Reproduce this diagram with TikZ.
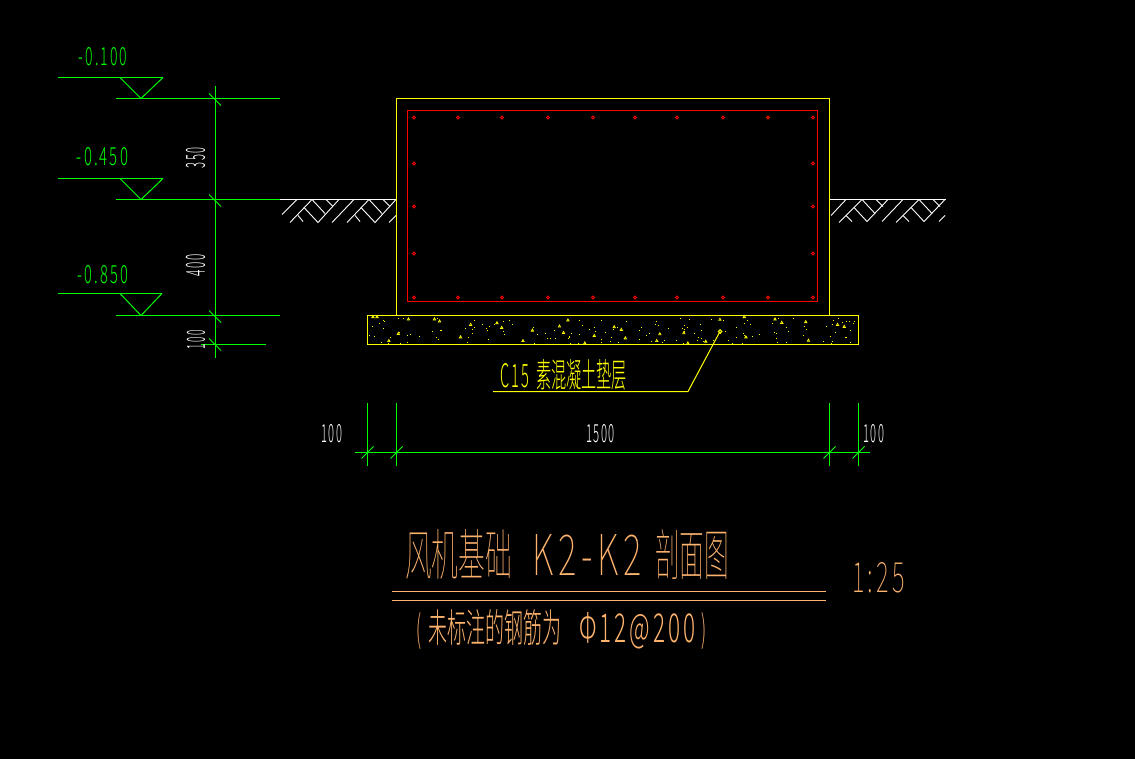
\documentclass[tikz,border=0pt]{standalone}
\usepackage{fontspec}
\usepackage{graphicx}
\setmainfont{Noto Sans CJK SC Light}
\newfontfamily\thinfont{Noto Sans CJK SC Thin}
\newcommand{\ls}{\addfontfeature{LetterSpace=14}}
\definecolor{cadgreen}{RGB}{0,255,0}
\definecolor{cadyellow}{RGB}{255,255,0}
\definecolor{cadred}{RGB}{255,0,0}
\definecolor{cadorange}{RGB}{255,180,110}
\newcommand{\fittext}[3]{\resizebox{#1pt}{#2pt}{#3}}
\tikzset{
  lbl/.style={inner sep=0pt,outer sep=0pt,anchor=center},
  blbl/.style={inner sep=0pt,outer sep=0pt,anchor=base west},
  gline/.style={draw=cadgreen,line width=1pt},
  wline/.style={draw=white,line width=1pt},
  yline/.style={draw=cadyellow,line width=1pt},
  rline/.style={draw=cadred,line width=1pt},
  oline/.style={draw=cadorange,line width=1pt},
  hatchline/.style={draw=white,line width=.9pt},
  barmark/.style={draw=cadred,line width=.9pt},
}
\begin{document}
\begin{tikzpicture}[x=1pt,y=-1pt]
\fill[black] (0,0) rectangle (1135,759);
\useasboundingbox (0,0) rectangle (1135,759);
\begin{scope}[shift={(0,0.5)}]
% level marks
\foreach \ya/\yb/\xr in {77/98/163,178/199/163,293/315/162}{
  \draw[gline] (58,\ya) -- (\xr,\ya);
  \draw[gline] (120,\ya) -- (141,\yb) -- (\xr,\ya);
  \draw[gline] (116,\yb) -- (280,\yb);
  \draw[gline] (209,\yb-5) -- (221,\yb+7);
}
\draw[gline] (215.5,86) -- (215.5,357);
\draw[gline] (201,344) -- (266,344);
\draw[gline] (209,338) -- (221,350);
\node[lbl,text=cadgreen] (lv1) at (103,56) {\fittext{48}{18}{\ls -0.100}};
\node[lbl,text=cadgreen] (lv2) at (102.5,156) {\fittext{51}{18}{\ls -0.450}};
\node[lbl,text=cadgreen] (lv3) at (103,274) {\fittext{50}{18}{\ls -0.850}};
\node[lbl,text=white,rotate=90] (d350) at (195.5,157.5) {\fittext{21}{19}{\ls 350}};
\node[lbl,text=white,rotate=90] (d400) at (195.5,265) {\fittext{22}{19}{\ls 400}};
\node[lbl,text=white,rotate=90] (d100) at (196,339.5) {\fittext{19}{18}{\ls 100}};
% ground
\draw[wline] (280,199) -- (396.5,199);
\draw[wline] (829.5,199) -- (946,199);
\foreach \s in {0,57}{
  \draw[hatchline] (312+\s,199) -- (290+\s,222);
  \draw[hatchline] (312+\s,199) -- (325+\s,213);
  \draw[hatchline] (304+\s,207) -- (318+\s,222) -- (339+\s,199);
  \draw[hatchline] (326+\s,199) -- (333+\s,206);
  \draw[hatchline] (298+\s,215) -- (303+\s,221);
}
\draw[hatchline] (297,199) -- (282,214);
\draw[hatchline] (354,199) -- (332,222);
\draw[hatchline] (396,215) -- (389,222);
\foreach \s in {0,57}{
  \draw[hatchline] (862+\s,199) -- (839+\s,222);
  \draw[hatchline] (862+\s,199) -- (875+\s,213);
  \draw[hatchline] (854+\s,207) -- (867+\s,221) -- (888+\s,199);
  \draw[hatchline] (876+\s,199) -- (883+\s,206);
  \draw[hatchline] (846+\s,215) -- (852+\s,221);
}
\draw[hatchline] (846,199) -- (831,215);
\draw[hatchline] (903,199) -- (882,221);
\draw[hatchline] (945,215) -- (939,221);
% foundation
\draw[yline] (396.5,315) -- (396.5,98) -- (829.5,98) -- (829.5,315);
\draw[rline] (407.5,110) rectangle (817.5,301);
\foreach \x in {414,458,502,548,593,635,677,723,768,813}{
  \draw[barmark] (\x,117) circle (1.6);
  \draw[barmark] (\x,297) circle (1.6);
}
\foreach \y in {163,206,253}{
  \draw[barmark] (414,\y) circle (1.6);
  \draw[barmark] (813,\y) circle (1.6);
}
% concrete blinding
\draw[yline] (367.5,315) rectangle (858.5,344);
\begin{scope}[yline,line width=.7pt]
\foreach \a/\b in {68/110,80/110,173/117,250/117,265/123,143/160,115/181,327/170,357/133,435/128,449/142,540/150,512/181,620/138,632/157,645/120,695/188,723/166,782/140,803/148,815/173,917/161,908/181,988/158,1000/188,1053/183,1095/118,1167/110,1172/170,1258/117,1278/127,1349/125,1357/180,1443/133,1463/139}{
  \pgfmathsetmacro{\tx}{350+\a/2.96}
  \pgfmathsetmacro{\ty}{279+\b/2.96}
  \draw (\tx-1.2,\ty+1) -- (\tx+1.2,\ty+1) -- (\tx,\ty-1.2) -- cycle;
}
\end{scope}
\foreach \i in {1,...,150}{
  \pgfmathsetmacro{\tx}{369+487*frac(abs(sin(\i*77.7))*913.7)}
  \pgfmathsetmacro{\ty}{317+26*frac(abs(cos(\i*53.3))*571.9)}
  \fill[cadyellow] (\tx,\ty) rectangle ++(1,1);
}
% leader
\coordinate (lbend) at (688,391);
\coordinate (lstart) at (493,391);
\coordinate (ltip) at (720,331);
\draw[yline] (lstart) -- (lbend) -- (ltip);
\draw[yline] (ltip) circle (1.8);
\node[blbl,text=cadyellow] (c15) at (500,387) {\fittext{29}{24}{\ls C15}\hspace{7pt}\fittext{91}{28}{素混凝土垫层}};
% bottom dimension
\foreach \x in {367.5,396.5,829.5,858.5}{
  \draw[gline] (\x,402) -- (\x,465);
  \draw[gline] (\x-6,458) -- (\x+6,446);
}
\draw[gline] (355,452) -- (870,452);
\node[lbl,text=white] (d100a) at (331.5,433) {\fittext{21}{18}{\ls 100}};
\node[lbl,text=white] (d1500) at (600.5,433) {\fittext{29}{18}{\ls 1500}};
\node[lbl,text=white] (d100b) at (873.5,433) {\fittext{21}{18}{\ls 100}};
% title
\node[blbl,text=cadorange] (title) at (405,575) {\thinfont\fittext{107}{46}{风机基础}\hspace{20pt}\fittext{110}{41}{\ls K2-K2}\hspace{13pt}\fittext{74}{46}{剖面图}};
\draw[oline] (392,591) -- (826,591);
\draw[oline] (392,600) -- (826,600);
\node[lbl,text=cadorange] (scale) at (878.5,577) {\thinfont\fittext{53}{30}{\ls 1:25}};
\node[blbl,text=cadorange] (sub) at (416,642) {\fittext{5}{30}{(}\hspace{7pt}\fittext{133}{33}{未标注的钢筋为}\hspace{18pt}\fittext{117}{30}{\ls Φ12@200}\hspace{5pt}\fittext{5}{30}{)}};
\end{scope}
\end{tikzpicture}
\end{document}
